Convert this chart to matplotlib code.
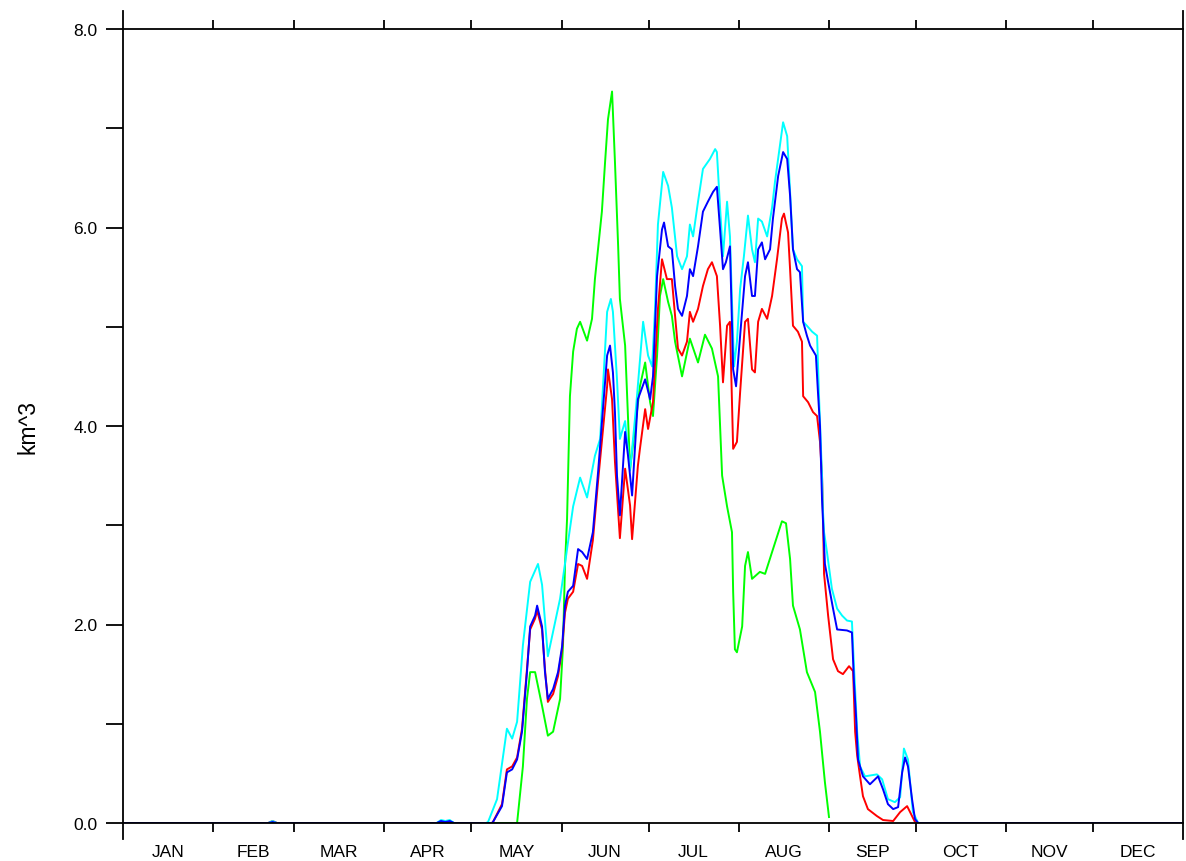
import matplotlib
matplotlib.use("Agg")
import matplotlib.pyplot as plt
import numpy as np

# daily volume (km^3) for four runs, listed as (day of year, value) pairs
cyan_day = [0, 50, 51.5, 53, 108, 109.5, 111, 112.5, 114, 125.0, 125.7, 128.8, 132.2, 134.0,
            135.7, 137.7, 140.2, 142.9, 144.3, 146.3, 150.5, 152.9, 155.0, 157.4, 159.8, 162.5,
            164.3, 166.7, 168.0, 168.7, 170.1, 171.1, 172.9, 174.6, 176.7, 179.1, 180.8, 182.2,
            183.2, 184.2, 186.0, 187.7, 189.0, 190.8, 192.5, 194.2, 195.2, 196.3, 198.0, 199.7,
            202.1, 203.9, 204.5, 205.6, 206.6, 208.0, 209.0, 210.4, 211.4, 212.5, 213.8, 215.2,
            216.6, 217.6, 218.7, 220.0, 221.8, 223.5, 224.5, 225.9, 227.3, 228.7, 229.7, 230.7,
            232.1, 233.8, 234.2, 235.5, 237.3, 239.0, 239.7, 240.7, 241.0, 241.4, 242.4, 244.1,
            245.9, 247.6, 249.3, 251.0, 251.7, 252.8, 253.8, 255.5, 259.6, 261.4, 263.4, 265.8,
            267.6, 268.9, 270.3, 272.0, 273.8, 365]
cyan_val = [0, 0, 0.02, 0, 0, 0.03, 0.02, 0.03, 0, 0, 0.01, 0.24, 0.95, 0.85,
            1.02, 1.79, 2.43, 2.61, 2.40, 1.68, 2.26, 2.76, 3.19, 3.48, 3.28, 3.70,
            3.87, 5.15, 5.28, 5.15, 4.47, 3.87, 4.05, 3.55, 4.20, 5.05, 4.71, 4.60,
            5.18, 6.03, 6.56, 6.42, 6.20, 5.71, 5.58, 5.71, 6.03, 5.91, 6.26, 6.59,
            6.69, 6.79, 6.76, 6.20, 5.71, 6.26, 5.91, 4.60, 4.85, 5.38, 5.71, 6.12,
            5.78, 5.65, 6.09, 6.06, 5.91, 6.20, 6.46, 6.76, 7.06, 6.92, 6.36, 5.78,
            5.68, 5.61, 5.05, 5.01, 4.95, 4.91, 4.27, 3.50, 3.16, 2.93, 2.73, 2.36,
            2.16, 2.09, 2.04, 2.03, 1.58, 0.92, 0.57, 0.47, 0.49, 0.44, 0.24, 0.21,
            0.26, 0.75, 0.64, 0.11, 0, 0]

blue_day = [0, 50, 51.5, 53, 108, 109.5, 111, 112.5, 114, 127.0, 127.4, 130.5, 132.2, 134.0,
            135.7, 137.4, 139.1, 140.2, 141.9, 142.6, 144.3, 145.3, 146.3, 148.1, 149.8, 151.2,
            152.2, 153.2, 155.0, 156.7, 158.1, 159.8, 161.8, 163.6, 166.7, 167.7, 168.7, 169.4,
            170.1, 171.1, 172.9, 173.9, 175.3, 177.3, 179.8, 181.5, 182.5, 183.9, 185.6, 186.3,
            187.7, 189.0, 190.1, 191.1, 192.5, 194.2, 195.2, 196.3, 198.0, 199.7, 201.4, 203.2,
            204.5, 205.6, 206.6, 207.6, 209.0, 210.1, 211.1, 212.5, 214.2, 215.2, 216.6, 217.6,
            218.7, 220.0, 221.1, 222.8, 223.8, 225.6, 227.3, 228.7, 229.7, 230.7, 232.1, 233.1,
            234.2, 235.5, 236.6, 238.6, 239.3, 240.0, 240.7, 241.7, 242.8, 244.5, 245.9, 249.3,
            251.0, 251.7, 252.4, 253.1, 254.8, 257.2, 260.0, 261.7, 263.4, 265.2, 266.9, 268.3,
            269.3, 270.3, 271.7, 272.7, 273.8, 365]
blue_val = [0, 0, 0.01, 0, 0, 0.02, 0.01, 0.02, 0, 0, 0.01, 0.17, 0.51, 0.54,
            0.64, 0.92, 1.52, 1.98, 2.09, 2.19, 1.98, 1.52, 1.25, 1.35, 1.52, 1.78,
            2.19, 2.33, 2.39, 2.76, 2.73, 2.66, 2.93, 3.54, 4.71, 4.81, 4.54, 4.14,
            3.50, 3.10, 3.94, 3.70, 3.30, 4.27, 4.47, 4.27, 4.50, 5.51, 5.98, 6.05,
            5.81, 5.78, 5.41, 5.18, 5.11, 5.31, 5.58, 5.51, 5.81, 6.16, 6.26, 6.36,
            6.41, 5.98, 5.58, 5.65, 5.81, 4.57, 4.40, 4.91, 5.51, 5.65, 5.31, 5.31,
            5.78, 5.85, 5.68, 5.78, 6.09, 6.52, 6.76, 6.69, 6.32, 5.78, 5.58, 5.55,
            5.05, 4.91, 4.81, 4.71, 4.34, 4.00, 3.26, 2.61, 2.43, 2.16, 1.95, 1.94,
            1.92, 1.42, 1.08, 0.64, 0.47, 0.39, 0.47, 0.34, 0.19, 0.14, 0.16, 0.51,
            0.66, 0.57, 0.24, 0.04, 0, 0]

red_day = [0, 50, 51.5, 53, 127.0, 127.4, 130.5, 132.2, 134.0, 135.7, 137.4, 139.1, 140.2,
           141.9, 142.6, 144.3, 145.3, 146.3, 148.1, 149.8, 151.2, 152.2, 153.2, 155.0, 156.7,
           158.1, 159.8, 161.8, 163.6, 166.7, 167.0, 168.4, 169.4, 171.1, 172.9, 174.6, 175.3,
           177.3, 178.0, 179.8, 180.8, 182.5, 184.2, 185.6, 187.3, 189.0, 190.1, 191.1, 192.5,
           194.2, 195.2, 196.3, 198.0, 199.7, 201.4, 202.8, 204.5, 205.6, 206.6, 208.0, 209.0,
           210.1, 211.4, 212.5, 214.2, 215.2, 216.6, 217.6, 218.7, 220.0, 221.8, 223.5, 225.2,
           226.9, 227.6, 229.0, 229.7, 230.7, 232.4, 233.8, 234.2, 235.9, 237.6, 239.0, 240.0,
           240.7, 241.0, 241.4, 242.8, 244.5, 246.2, 247.9, 250.0, 251.4, 252.1, 252.8, 253.8,
           254.8, 256.5, 259.6, 261.7, 265.2, 267.6, 270.0, 271.7, 272.7, 273.8, 365]
red_val = [0, 0, 0.02, 0, 0, 0.01, 0.19, 0.54, 0.57, 0.66, 0.95, 1.55, 1.95,
           2.06, 2.14, 1.95, 1.55, 1.22, 1.30, 1.48, 1.75, 2.12, 2.26, 2.33, 2.61,
           2.59, 2.46, 2.85, 3.45, 4.40, 4.57, 4.27, 3.64, 2.87, 3.57, 3.20, 2.86,
           3.60, 3.77, 4.17, 3.97, 4.24, 5.18, 5.68, 5.48, 5.48, 5.11, 4.78, 4.71,
           4.85, 5.15, 5.05, 5.18, 5.41, 5.58, 5.65, 5.51, 5.01, 4.44, 5.01, 5.05,
           3.77, 3.84, 4.34, 5.05, 5.08, 4.57, 4.54, 5.05, 5.18, 5.08, 5.31, 5.68,
           6.09, 6.14, 5.95, 5.58, 5.01, 4.95, 4.85, 4.30, 4.24, 4.14, 4.10, 3.84,
           3.50, 3.16, 2.51, 2.09, 1.65, 1.53, 1.50, 1.58, 1.53, 0.92, 0.68, 0.47,
           0.27, 0.14, 0.07, 0.03, 0.02, 0.11, 0.17, 0.07, 0.01, 0, 0]

green_day = [0, 135.7, 137.7, 139.1, 140.2, 141.9, 144.3, 146.3, 148.1, 150.5, 151.5, 152.2,
             152.9, 153.9, 155.0, 156.3, 157.4, 159.8, 161.5, 162.5, 164.9, 166.0, 167.0, 168.4,
             168.7, 169.4, 170.5, 171.1, 172.9, 173.6, 174.6, 176.0, 178.0, 179.8, 181.5, 182.5,
             183.9, 184.9, 186.0, 187.7, 189.0, 190.1, 192.5, 195.2, 198.0, 200.4, 202.8, 204.9,
             206.3, 208.0, 209.7, 210.1, 210.7, 211.4, 213.2, 214.2, 215.2, 216.6, 219.3, 221.1,
             223.5, 226.9, 228.3, 229.7, 230.7, 233.1, 235.5, 238.3, 240.0, 241.7, 243.1]
green_val = [0, 0, 0.57, 1.25, 1.52, 1.52, 1.18, 0.88, 0.92, 1.25, 1.78, 2.60,
             3.06, 4.30, 4.75, 4.98, 5.05, 4.86, 5.08, 5.48, 6.16, 6.66, 7.09, 7.37,
             7.16, 6.66, 5.81, 5.28, 4.81, 4.30, 3.57, 3.90, 4.40, 4.64, 4.24, 4.10,
             4.71, 5.31, 5.48, 5.25, 5.11, 4.85, 4.50, 4.88, 4.64, 4.92, 4.78, 4.50,
             3.50, 3.19, 2.93, 2.33, 1.75, 1.72, 1.98, 2.59, 2.73, 2.46, 2.53, 2.51,
             2.73, 3.04, 3.02, 2.66, 2.19, 1.95, 1.52, 1.32, 0.92, 0.41, 0.06]

month_edges = [0, 31, 59, 90, 120, 151, 181, 212, 243, 273, 304, 334, 365]
month_labels = ["JAN", "FEB", "MAR", "APR", "MAY", "JUN",
                "JUL", "AUG", "SEP", "OCT", "NOV", "DEC"]

plt.rcParams['font.family'] = ['Liberation Sans', 'DejaVu Sans']

fig = plt.figure(figsize=(11.86, 8.62), dpi=100)
ax = fig.add_axes([123 / 1186, 38 / 862, 1060 / 1186, 794 / 862])

lw = 1.4
ax.plot(green_day, green_val, color="#00ff00", lw=lw)
ax.plot(red_day, red_val, color="#ff0000", lw=lw)
ax.plot(cyan_day, cyan_val, color="#00ffff", lw=lw)
ax.plot(blue_day, blue_val, color="#0000ff", lw=lw)

ax.set_xlim(0, 365)
ax.set_ylim(0, 8)

for s in ax.spines.values():
    s.set_linewidth(1.3)
# the left and right frame lines run past the plot box like long ticks
ax.spines['left'].set_bounds(-0.165, 8.18)
ax.spines['right'].set_bounds(-0.165, 8.18)

# y axis: a tick every unit, labels on the even ones
ax.set_yticks([0, 2, 4, 6, 8], ["0.0", "2.0", "4.0", "6.0", "8.0"])
ax.set_yticks([1, 3, 5, 7], minor=True)
ax.tick_params(axis='y', which='both', direction='out', length=12.5, width=1.3,
               left=True, right=False, labelsize=12.5, pad=6)
ax.set_ylabel("km^3", fontsize=16.5, labelpad=24)

# x axis: month boundaries as short ticks on top and bottom, labels mid-month
mids = [(a + b) / 2 for a, b in zip(month_edges[:-1], month_edges[1:])]
ax.set_xticks(mids, month_labels)
ax.set_xticks(month_edges[1:-1], minor=True)
ax.tick_params(axis='x', which='major', length=0, labelsize=12.5, pad=15)
ax.tick_params(axis='x', which='minor', direction='out', length=6.5, width=1.3,
               top=True, bottom=True)

fig.savefig("out.png", dpi=100)
